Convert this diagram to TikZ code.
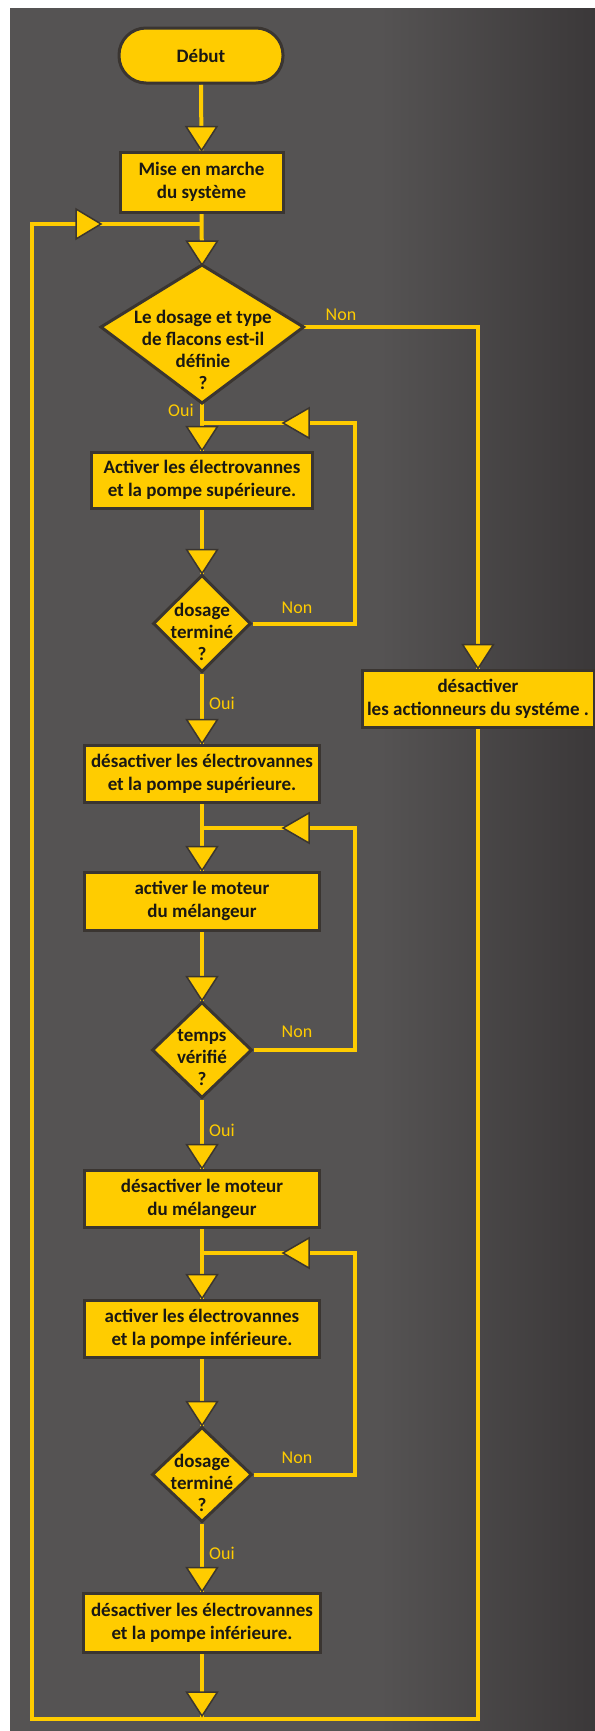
\documentclass[tikz,border=0pt]{standalone}
\usepackage{fontspec}
\setmainfont{Carlito}
\usetikzlibrary{shapes.geometric}
\definecolor{bgc}{HTML}{555353}
\definecolor{bgdark}{HTML}{3B3839}
\definecolor{ylw}{HTML}{FFCC00}
\definecolor{edgec}{HTML}{3A3531}
\definecolor{ink}{HTML}{1A1814}
\pgfdeclarelayer{back}
\pgfsetlayers{back,main}
\newcommand\tridn[1]{\path[tri] (#1) -- ++(-15.5,-24) -- ++(31,0) -- cycle;}
\newcommand\trilt[1]{\path[tri] (#1) -- ++(26,-15) -- ++(0,30) -- cycle;}
\newcommand\trirt[1]{\path[tri] (#1) -- ++(-25,-15) -- ++(0,30) -- cycle;}
\tikzset{
 flow/.style={draw=ylw, line width=4bp},
 tri/.style={fill=ylw, draw=edgec, line width=1.5bp, line join=miter},
 box/.style={rectangle, fill=ylw, draw=edgec, line width=3bp, align=center, inner sep=0pt, text=ink, font=\bfseries\fontsize{19bp}{23bp}\selectfont},
 term/.style={box, rounded corners=27bp},
 dia/.style={diamond, fill=ylw, draw=edgec, line width=3bp, inner sep=0pt},
 dtext/.style={align=center, inner sep=0pt, text=ink, font=\bfseries\fontsize{19bp}{22bp}\selectfont},
 lbl/.style={text=ylw, inner sep=0pt, font=\fontsize{18bp}{20bp}\selectfont},
}
\begin{document}
\begin{tikzpicture}[x=1bp,y=-1bp]
\useasboundingbox (0,0) rectangle (595,1731);
\begin{pgfonlayer}{back}
\fill[white] (0,0) rectangle (595,1731);
\fill[bgc] (10,8) rectangle (595,1731);
\shade[left color=bgc, right color=bgdark] (380,8) rectangle (595,1731);
\end{pgfonlayer}

% nodes
\node[term, minimum width=164bp, minimum height=55bp] (start) at (201,55.5) {Début};
\node[box, minimum width=163bp, minimum height=60bp] (mise) at (201.5,182) {Mise en marche\\du système};

\coordinate (d1t) at (202,265);
\coordinate (d1r) at (303.5,327);
\coordinate (d1b) at (202,403);
\coordinate (d1l) at (101,327);
\path[fill=ylw, draw=edgec, line width=3bp, line join=miter] (d1t) -- (d1r) -- (d1b) -- (d1l) -- cycle;
\node[dtext] (d1txt) at (203,350) {Le dosage et type\\de flacons est-il\\définie\\?};

\node[box, minimum width=220bp, minimum height=56bp] (act1) at (202,480) {Activer les électrovannes\\et la pompe supérieure.};
\node[dia, minimum width=98bp, minimum height=97bp] (d2) at (202,623.5) {};
\node[dtext] (d2txt) at (202,632) {dosage\\terminé\\?};
\node[box, minimum width=234bp, minimum height=57bp] (des1) at (202,773.5) {désactiver les électrovannes\\et la pompe supérieure.};
\node[box, minimum width=234bp, minimum height=58bp] (mot1) at (202,901) {activer le moteur\\du mélangeur};
\node[dia, minimum width=100bp, minimum height=96bp] (d3) at (202,1050) {};
\node[dtext] (d3txt) at (202,1058) {temps\\vérifié\\?};
\node[box, minimum width=235bp, minimum height=57bp] (mot2) at (202,1198.5) {désactiver le moteur\\du mélangeur};
\node[box, minimum width=235bp, minimum height=57bp] (act2) at (202,1328.5) {activer les électrovannes\\et la pompe inférieure.};
\node[dia, minimum width=100bp, minimum height=95bp] (d4) at (202,1474.5) {};
\node[dtext] (d4txt) at (202,1483) {dosage\\terminé\\?};
\node[box, minimum width=237bp, minimum height=59bp] (des2) at (202,1622.5) {désactiver les électrovannes\\et la pompe inférieure.};
\node[box, minimum width=232bp, minimum height=57bp] (stop) at (478,698.5) {désactiver\\les actionneurs du systéme .};

% labels
\node[lbl] (non1) at (341,315) {Non};
\node[lbl] (oui1) at (181,410) {Oui};
\node[lbl] (non2) at (297,608) {Non};
\node[lbl] (oui2) at (222,703) {Oui};
\node[lbl] (non3) at (297,1032) {Non};
\node[lbl] (oui3) at (222,1130) {Oui};
\node[lbl] (non4) at (297,1458) {Non};
\node[lbl] (oui4) at (222,1553) {Oui};

% junction coordinates
\coordinate (j0) at (202,224);
\coordinate (j1) at (202,423);
\coordinate (j2) at (202,828);
\coordinate (j3) at (202,1253);
\coordinate (r1) at (355,423);
\coordinate (r2) at (355,828);
\coordinate (r3) at (355,1253);
\coordinate (bl) at (32,1719);
\coordinate (bm) at (202,1719);
\coordinate (bt) at (202,1716);
\coordinate (t0) at (101,224);
\coordinate (t1) at (283,423);
\coordinate (t2) at (283,828);
\coordinate (t3) at (283,1253);

% connectors
\begin{pgfonlayer}{back}
\draw[flow] (start.south) -- (mise.north);
\draw[flow] (mise.south) -- (d1t);
\draw[flow] (d1r) -| (stop.north);
\draw[flow] (stop.south) |- (bl) |- (j0);
\draw[flow] (d1b) -- (act1.north);
\draw[flow] (d2.east) -| (r1) -- (j1);
\draw[flow] (act1.south) -- (d2.north);
\draw[flow] (d2.south) -- (des1.north);
\draw[flow] (des1.south) -- (mot1.north);
\draw[flow] (d3.east) -| (r2) -- (j2);
\draw[flow] (mot1.south) -- (d3.north);
\draw[flow] (d3.south) -- (mot2.north);
\draw[flow] (mot2.south) -- (act2.north);
\draw[flow] (d4.east) -| (r3) -- (j3);
\draw[flow] (act2.south) -- (d4.north);
\draw[flow] (d4.south) -- (des2.north);
\draw[flow] (des2.south) -- (bm);
\end{pgfonlayer}

% arrow heads
\tridn{mise.north}
\tridn{d1t}
\tridn{act1.north}
\tridn{d2.north}
\tridn{des1.north}
\tridn{mot1.north}
\tridn{d3.north}
\tridn{mot2.north}
\tridn{act2.north}
\tridn{d4.north}
\tridn{des2.north}
\tridn{stop.north}
\tridn{bt}
\trirt{t0}
\trilt{t1}
\trilt{t2}
\trilt{t3}
\end{tikzpicture}
\end{document}
